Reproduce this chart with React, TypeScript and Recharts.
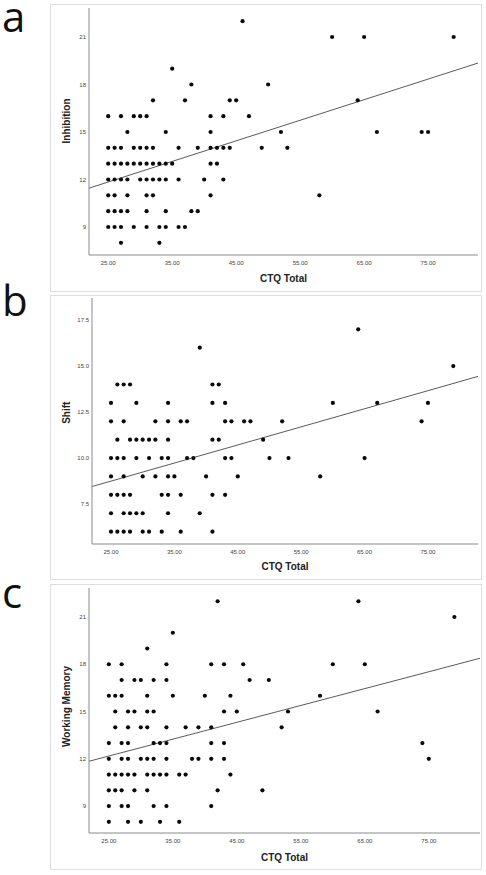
import React from "react";
import { ScatterChart, Scatter, XAxis, YAxis, ReferenceLine, Label } from "recharts";

const CTQ_TICKS = [25, 35, 45, 55, 65, 75];
const INHIBITION_TICKS = [9, 12, 15, 18, 21];
const SHIFT_TICKS = [7.5, 10, 12.5, 15, 17.5];
const MEMORY_TICKS = [9, 12, 15, 18, 21];

// each row: [score, CTQ totals of the participants with that score]
const INHIBITION_ROWS: [number, number[]][] = [
  [22, [46]],
  [21, [60, 65, 79]],
  [19, [35]],
  [18, [38, 50]],
  [17, [32, 37, 44, 45, 64]],
  [16, [25, 27, 29, 30, 31, 41, 43, 47]],
  [15, [28, 34, 41, 52, 67, 74, 75]],
  [14, [25, 26, 27, 29, 30, 31, 32, 36, 39, 41, 42, 43, 44, 49, 53]],
  [13, [25, 26, 27, 28, 29, 30, 31, 32, 33, 34, 35, 41, 42]],
  [12, [25, 26, 27, 28, 30, 31, 32, 33, 34, 36, 40, 43]],
  [11, [25, 26, 28, 31, 32, 41, 58]],
  [10, [25, 26, 27, 28, 31, 34, 38, 39]],
  [9, [25, 26, 27, 29, 31, 33, 34, 36, 37]],
  [8, [27, 33]],
];

const SHIFT_ROWS: [number, number[]][] = [
  [17, [64]],
  [16, [39]],
  [15, [79]],
  [14, [26, 27, 28, 41, 42]],
  [13, [25, 29, 34, 41, 43, 60, 67, 75]],
  [12, [25, 27, 32, 34, 36, 37, 43, 44, 46, 47, 52, 74]],
  [11, [26, 28, 29, 30, 31, 32, 34, 41, 42, 49]],
  [10, [25, 26, 27, 29, 31, 33, 34, 37, 38, 43, 44, 50, 53, 65]],
  [9, [25, 27, 30, 32, 34, 35, 40, 45, 58]],
  [8, [25, 26, 27, 28, 33, 34, 36, 41, 43]],
  [7, [25, 27, 28, 29, 30, 34, 39]],
  [6, [25, 26, 27, 28, 30, 31, 33, 36, 41]],
];

const MEMORY_ROWS: [number, number[]][] = [
  [22, [42, 64]],
  [21, [79]],
  [20, [35]],
  [19, [31]],
  [18, [25, 27, 34, 41, 43, 46, 60, 65]],
  [17, [27, 29, 30, 32, 34, 47, 50]],
  [16, [25, 26, 27, 31, 35, 40, 44, 58]],
  [15, [26, 28, 29, 31, 32, 43, 45, 53, 67]],
  [14, [26, 28, 30, 31, 34, 37, 39, 41, 52]],
  [13, [25, 27, 28, 32, 33, 34, 41, 43, 74]],
  [12, [25, 27, 28, 30, 31, 32, 34, 38, 39, 41, 43, 75]],
  [11, [25, 26, 27, 28, 29, 31, 32, 33, 34, 36, 37, 44]],
  [10, [25, 26, 27, 29, 31, 42, 49]],
  [9, [25, 27, 28, 32, 34, 41]],
  [8, [25, 28, 30, 33, 36]],
];

// fit lines (score = intercept + slope * CTQ)
const INHIBITION_FIT = { intercept: 8.59, slope: 0.13 };
const SHIFT_FIT = { intercept: 6.29, slope: 0.0983 };
const MEMORY_FIT = { intercept: 9.5, slope: 0.107 };

const TICK_FONT = "'Liberation Sans', Arial, sans-serif";

type Fit = { intercept: number; slope: number };

type PanelProps = {
  letter: string;
  title: string;
  rows: [number, number[]][];
  yTicks: number[];
  yDigits: number;
  fit: Fit;
  xDomain: [number, number];
  yDomain: [number, number];
  top: number;
  height: number;
  plotTop: number;
  plotRight: number;
  yAxisW: number;
  xAxisH: number;
  titleShift: number;
  xTitleOffset: number;
  letterTop: number;
};

const Dot = (p: any) => <circle cx={p.cx} cy={p.cy} r={2.1} fill="#0a0a0a" />;

function YTitle({ viewBox, value, shift }: any) {
  const x = viewBox.x + 20;
  const y = viewBox.y + viewBox.height / 2 + shift;
  return (
    <text
      x={x}
      y={y}
      transform={`rotate(-90 ${x} ${y})`}
      textAnchor="middle"
      fontFamily={TICK_FONT}
      fontWeight="bold"
      fontSize={10}
      fill="#222"
    >
      {value}
    </text>
  );
}

function Panel(props: PanelProps) {
  const { rows, fit, xDomain } = props;
  const points = rows.flatMap(([score, totals]) => totals.map((t) => ({ x: t, y: score })));
  const line = xDomain.map((x) => ({ x, y: fit.intercept + fit.slope * x }));
  const W = 432;

  return (
    <>
      <div
        style={{
          position: "absolute",
          left: 2,
          top: props.letterTop,
          fontFamily: "'Open Sans', sans-serif",
          fontSize: 42,
          lineHeight: "32px",
          color: "#111",
        }}
      >
        {props.letter}
      </div>
      <div
        style={{
          position: "absolute",
          left: 50,
          top: props.top,
          width: W,
          height: props.height,
          boxSizing: "border-box",
          border: "1px solid #dedede",
        }}
      />
      <div style={{ position: "absolute", left: 50, top: props.top }}>
        <ScatterChart
          width={W}
          height={props.height}
          margin={{ top: props.plotTop, right: props.plotRight, bottom: 0, left: 0 }}
        >
          <XAxis
            type="number"
            dataKey="x"
            domain={xDomain}
            ticks={CTQ_TICKS}
            allowDataOverflow
            height={props.xAxisH}
            tickLine={false}
            tickSize={4}
            tickMargin={2}
            axisLine={{ stroke: "#8a8a8a" }}
            tick={{ fontSize: 6, fill: "#444", fontFamily: TICK_FONT }}
            tickFormatter={(v: number) => v.toFixed(2)}
          >
            <Label
              value="CTQ  Total"
              position="insideBottom"
              offset={props.xTitleOffset}
              style={{ fontFamily: TICK_FONT, fontWeight: "bold", fontSize: 10, fill: "#222", whiteSpace: "pre" }}
            />
          </XAxis>
          <YAxis
            type="number"
            dataKey="y"
            domain={props.yDomain}
            ticks={props.yTicks}
            allowDataOverflow
            width={props.yAxisW}
            tickLine={false}
            tickSize={1}
            tickMargin={2}
            axisLine={{ stroke: "#8a8a8a" }}
            tick={{ fontSize: 6, fill: "#444", fontFamily: TICK_FONT }}
            tickFormatter={(v: number) => v.toFixed(props.yDigits)}
          >
            <Label content={(lp: any) => <YTitle {...lp} value={props.title} shift={props.titleShift} />} />
          </YAxis>
          <Scatter data={points} shape={Dot} isAnimationActive={false} />
          <ReferenceLine
            segment={line}
            stroke="#5a5a5a"
            strokeWidth={1}
            ifOverflow="visible"
          />
        </ScatterChart>
      </div>
    </>
  );
}

export default function App() {
  return (
    <div style={{ position: "absolute", left: 0, top: 0, width: 486, height: 875, background: "#fff" }}>
      <Panel
        letter="a"
        title="Inhibition"
        rows={INHIBITION_ROWS}
        yTicks={INHIBITION_TICKS}
        yDigits={0}
        fit={INHIBITION_FIT}
        xDomain={[22, 82.8]}
        yDomain={[7.23, 22.83]}
        top={4}
        height={288}
        plotTop={4}
        plotRight={4}
        yAxisW={39}
        xAxisH={37}
        titleShift={-10.5}
        xTitleOffset={10}
        letterTop={0}
      />
      <Panel
        letter="b"
        title="Shift"
        rows={SHIFT_ROWS}
        yTicks={SHIFT_TICKS}
        yDigits={1}
        fit={SHIFT_FIT}
        xDomain={[22, 82.9]}
        yDomain={[5.33, 18.7]}
        top={295}
        height={285}
        plotTop={3}
        plotRight={4}
        yAxisW={42}
        xAxisH={36}
        titleShift={-8.3}
        xTitleOffset={10}
        letterTop={284}
      />
      <Panel
        letter="c"
        title="Working Memory"
        rows={MEMORY_ROWS}
        yTicks={MEMORY_TICKS}
        yDigits={0}
        fit={MEMORY_FIT}
        xDomain={[21.9, 83]}
        yDomain={[7.29, 22.84]}
        top={584}
        height={286}
        plotTop={4}
        plotRight={2}
        yAxisW={39}
        xAxisH={37}
        titleShift={-4}
        xTitleOffset={9}
        letterTop={576}
      />
    </div>
  );
}
